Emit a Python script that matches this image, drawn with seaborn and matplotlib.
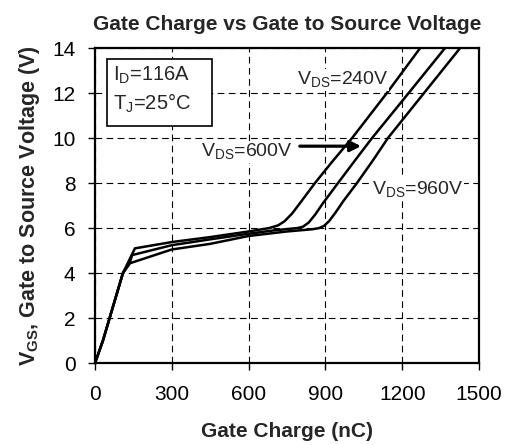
import matplotlib
matplotlib.use("Agg")
import matplotlib.pyplot as plt
from matplotlib.patches import Rectangle
import seaborn as sns
import pandas as pd

# Gate charge (nC) / gate-source voltage (V)
q_240 = [0, 31, 109, 156, 300, 450, 600, 680, 715, 740, 770, 800, 859, 930, 1004, 1140, 1270]
v_240 = [0, 1, 4, 5.1, 5.38, 5.6, 5.85, 6.0, 6.12, 6.3, 6.65, 7.1, 8, 9, 10, 12, 14]

q_600 = [0, 31, 109, 137, 145, 300, 450, 600, 700, 790, 812, 835, 860, 890, 949, 1015, 1082, 1225, 1367]
v_600 = [0, 1, 4, 4.5, 4.8, 5.24, 5.5, 5.75, 5.9, 6.0, 6.06, 6.25, 6.6, 7.1, 8, 9, 10, 12, 14]

q_960 = [0, 31, 109, 137, 300, 450, 600, 750, 850, 875, 895, 915, 940, 970, 1023, 1085, 1144, 1285, 1426]
v_960 = [0, 1, 4, 4.44, 5.05, 5.3, 5.65, 5.85, 5.95, 6.0, 6.1, 6.32, 6.7, 7.2, 8, 9, 10, 12, 14]

x_ticks = [0, 300, 600, 900, 1200, 1500]
y_ticks = [0, 2, 4, 6, 8, 10, 12, 14]

df = pd.concat([
    pd.DataFrame({'Q': q_240, 'V': v_240, 'Vds': '240V'}),
    pd.DataFrame({'Q': q_600, 'V': v_600, 'Vds': '600V'}),
    pd.DataFrame({'Q': q_960, 'V': v_960, 'Vds': '960V'}),
])

sns.set_style("white")
plt.rcParams['font.family'] = ['Liberation Sans', 'DejaVu Sans']
plt.rcParams['mathtext.fontset'] = 'custom'
plt.rcParams['mathtext.rm'] = 'Liberation Sans'
plt.rcParams['mathtext.bf'] = 'Liberation Sans:bold'

fig = plt.figure(figsize=(5.08, 4.45), dpi=100)
ax = fig.add_axes([0.187, 0.184, 0.756, 0.708])

sns.lineplot(data=df, x='Q', y='V', hue='Vds', palette=['black'] * 3,
             linewidth=1.8, legend=False, ax=ax, estimator=None, sort=False)

ax.set_xlim(0, 1500)
ax.set_ylim(0, 14)
ax.set_xticks(x_ticks)
ax.set_yticks(y_ticks)
ax.grid(True, color='black', linestyle=(0, (6, 4)), linewidth=0.8)
for s in ax.spines.values():
    s.set_color('black')
    s.set_linewidth(1.6)
ax.tick_params(axis='both', direction='out', length=5, width=1, colors='black',
               labelsize=15, left=True, bottom=True)
ax.tick_params(axis='x', pad=11)
ax.tick_params(axis='y', pad=9)

ax.set_title('Gate Charge vs Gate to Source Voltage', fontsize=15,
             fontweight='bold', pad=13)
ax.set_xlabel('Gate Charge (nC)', fontsize=15, fontweight='bold', labelpad=13)
ax.set_ylabel(r'V$_{\mathbf{GS}}$, Gate to Source Voltage (V)', fontsize=15.5,
              fontweight='bold', labelpad=7)

wb = dict(facecolor='white', edgecolor='none', pad=0.5)
ax.text(789, 12.58, r'V$_{\mathrm{DS}}$=240V', fontsize=14, ha='left', va='center', bbox=wb)
ax.text(414, 9.4, r'V$_{\mathrm{DS}}$=600V', fontsize=14, ha='left', va='center', bbox=wb)
ax.text(1082, 7.69, r'V$_{\mathrm{DS}}$=960V', fontsize=14, ha='left', va='center', bbox=wb)
ax.annotate('', xy=(1050, 9.64), xytext=(789, 9.64),
            arrowprops=dict(arrowstyle='-|>', color='black', lw=2.3,
                            mutation_scale=16))

ax.add_patch(Rectangle((0.031, 0.752), 0.274, 0.213, transform=ax.transAxes,
                       facecolor='white', edgecolor='black', linewidth=1.2, zorder=3))
ax.text(0.047, 0.914, r'I$_{\mathrm{D}}$=116A', transform=ax.transAxes,
        fontsize=14.5, ha='left', va='center', zorder=4)
ax.text(0.047, 0.825, r'T$_{\mathrm{J}}$=25°C', transform=ax.transAxes,
        fontsize=14.5, ha='left', va='center', zorder=4)

fig.savefig('out.png', dpi=100)
